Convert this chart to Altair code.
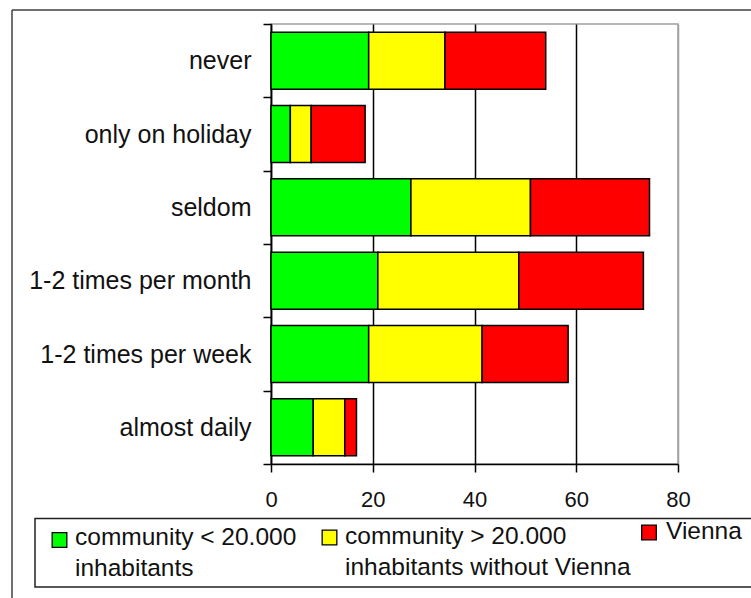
import altair as alt
import pandas as pd

# How often people travel, split by place of residence (stacked shares)
frequency = [
    "never",
    "only on holiday",
    "seldom",
    "1-2 times per month",
    "1-2 times per week",
    "almost daily",
]
series = [
    "community < 20.000 inhabitants",
    "community > 20.000 inhabitants without Vienna",
    "Vienna",
]
legend_labels = [
    "community < 20.000\ninhabitants",
    "community > 20.000\ninhabitants without Vienna",
    "Vienna",
]
small_communities = [19.2, 3.8, 27.5, 21.0, 19.2, 8.3]
large_communities = [15.0, 4.1, 23.5, 27.7, 22.3, 6.2]
vienna = [19.8, 10.6, 23.4, 24.5, 16.9, 2.3]
x_ticks = [0, 20, 40, 60, 80]
colors = ["#00ff00", "#ffff00", "#ff0000"]

rows = []
for s_idx, (name, vals) in enumerate(
    zip(series, [small_communities, large_communities, vienna])
):
    for f, v in zip(frequency, vals):
        rows.append({"frequency": f, "series": name, "order": s_idx, "value": v})
df = pd.DataFrame(rows)

FONT = "Liberation Sans"
TEXT = "#111111"
W, H = 407, 440
PAD = {"left": 271, "top": 24, "right": 73, "bottom": 134}

color = alt.Color(
    "series:N", scale=alt.Scale(domain=series, range=colors), legend=None
)

bars = (
    alt.Chart(df)
    .mark_bar(size=57, stroke="black", strokeWidth=1.5)
    .encode(
        x=alt.X(
            "sum(value):Q",
            stack="zero",
            scale=alt.Scale(domain=[0, 80], nice=False),
            axis=alt.Axis(
                values=x_ticks,
                title=None,
                grid=True,
                gridColor=alt.condition(
                    "datum.value >= 80", alt.value("#a0a0a0"), alt.value("black")
                ),
                gridWidth=1.5,
                domainColor="black",
                domainWidth=1.5,
                tickColor="black",
                tickWidth=1.5,
                tickSize=8,
                labelFont=FONT,
                labelFontSize=22,
                labelColor=TEXT,
                labelPadding=17,
                labelFlush=False,
            ),
        ),
        y=alt.Y(
            "frequency:N",
            sort=frequency,
            scale=alt.Scale(paddingInner=0, paddingOuter=0),
            axis=alt.Axis(
                title=None,
                grid=False,
                tickBand="extent",
                domainColor="black",
                domainWidth=1.5,
                tickColor="black",
                tickWidth=1.5,
                tickSize=8,
                labelFont=FONT,
                labelFontSize=25,
                labelColor=TEXT,
                labelPadding=12,
                labelLimit=0,
            ),
        ),
        color=color,
        order=alt.Order("order:Q"),
    )
)

one = pd.DataFrame({"k": [0]})

# outer frame (left and top edges)
frame_left = alt.Chart(one).mark_rule(color="#404040", strokeWidth=1.5).encode(
    x=alt.value(-259), y=alt.value(-14), y2=alt.value(600)
)
frame_top = alt.Chart(one).mark_rule(color="#404040", strokeWidth=1.5).encode(
    x=alt.value(-259), x2=alt.value(500), y=alt.value(-14)
)

# legend box
legend_box = alt.Chart(one).mark_rect(
    fill="white", stroke="#222222", strokeWidth=1.5
).encode(
    x=alt.value(-236), x2=alt.value(520), y=alt.value(494.5), y2=alt.value(563)
)

swatch_pos = [(-211.5, 516), (58.5, 513.5), (378, 508.5)]
text_pos = [(-196, 521), (74, 520), (395, 515)]

legend_layers = []
for i, name in enumerate(series):
    entry = pd.DataFrame({"series": [name], "label": [legend_labels[i]]})
    sx, sy = swatch_pos[i]
    tx, ty = text_pos[i]
    legend_layers.append(
        alt.Chart(entry)
        .mark_square(size=215, stroke="black", strokeWidth=1.3, opacity=1)
        .encode(x=alt.value(sx), y=alt.value(sy), color=color)
    )
    legend_layers.append(
        alt.Chart(entry)
        .mark_text(
            align="left",
            baseline="alphabetic",
            font=FONT,
            fontSize=24.5,
            color=TEXT,
            lineBreak="\n",
            lineHeight=31,
        )
        .encode(x=alt.value(tx), y=alt.value(ty), text="label:N")
    )

chart = (
    alt.layer(frame_left, frame_top, legend_box, bars, *legend_layers)
    .properties(
        width=W,
        height=H,
        autosize=alt.AutoSizeParams(type="none"),
        padding=PAD,
        background="white",
    )
    .configure_view(stroke="#a0a0a0", strokeWidth=1.5)
)

chart.save("out.html", embed_options={"renderer": "svg", "actions": False})
